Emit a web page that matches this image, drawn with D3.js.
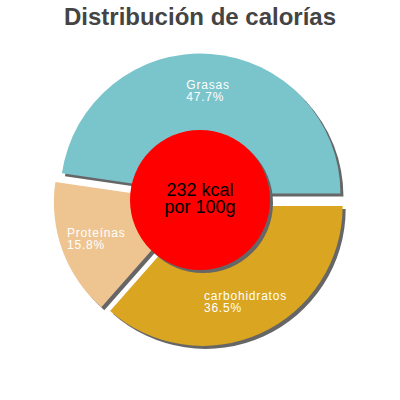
<!DOCTYPE html>
<html lang="es">
    <head>
        <meta charset="utf-8">
        <title>Distribución de calorías</title>
        <script src="https://d3js.org/d3.v7.min.js"></script>
        <style type="text/css">
            body{
                margin: 0;
                background: #fff;
            }
            svg{
                width: 400px;
                height: 400px;
                display: block;
                font-family: "Liberation Sans", Arial, sans-serif;
            }
        </style>
    </head>
    <body>
        <svg></svg>
        <script type="text/javascript">

        const w = 400;
        const h = 400;

        //DATA
        const nutrients = ["Grasas", "Proteínas", "carbohidratos"];
        const percents = [47.7, 15.8, 36.5];
        const colors = ["#7AC4CC", "#EEC591", "#DAA520"];
        const kcal = 232;
        const centerLines = [kcal + " kcal", "por 100g"];

        const dataset = nutrients.map((n, i) => ({name: n, val: percents[i], color: colors[i]}));

        const cx = 200, cy = 200;
        const radius = 140;
        const hole = 70;
        const explode = 6.5;
        const labelR = 104;

        const svg = d3.select("svg");

        //TITLE
        svg.append("text")
           .attr("x", w / 2)
           .attr("y", 25)
           .attr("text-anchor", "middle")
           .attr("font-size", "24px")
           .attr("font-weight", "bold")
           .attr("fill", "#444")
           .text("Distribución de calorías");

        //PIE - starts at 3 o'clock, goes counterclockwise
        const pie = d3.pie()
                      .value(d => d.val)
                      .sort(null)
                      .startAngle(Math.PI / 2)
                      .endAngle(Math.PI / 2 - 2 * Math.PI);

        const arc = d3.arc().innerRadius(0).outerRadius(radius);
        const labelArc = d3.arc().innerRadius(labelR).outerRadius(labelR);

        const arcs = pie(dataset);

        const shift = d => {
            const a = (d.startAngle + d.endAngle) / 2;
            return [Math.sin(a) * explode, -Math.cos(a) * explode];
        };

        const g = svg.append("g").attr("transform", `translate(${cx},${cy})`);

        //SHADOWS
        g.selectAll("path.shadow")
         .data(arcs)
         .join("path")
         .attr("class", "shadow")
         .attr("d", arc)
         .attr("fill", "#666")
         .attr("transform", d => {
             const s = shift(d);
             return `translate(${s[0] + 3},${s[1] + 3})`;
         });

        //SLICES
        g.selectAll("path.slice")
         .data(arcs)
         .join("path")
         .attr("class", "slice")
         .attr("d", arc)
         .attr("fill", d => d.data.color)
         .attr("transform", d => {
             const s = shift(d);
             return `translate(${s[0]},${s[1]})`;
         });

        //LABELS (left aligned block, centred on the widest line)
        const labels = g.selectAll("text.lbl")
                        .data(arcs)
                        .join("text")
                        .attr("class", "lbl")
                        .attr("fill", "#fff")
                        .attr("font-size", "12px")
                        .attr("letter-spacing", "0.8px");

        labels.append("tspan").attr("class", "l1").text(d => d.data.name);
        labels.append("tspan").attr("class", "l2").text(d => d.data.val.toFixed(1) + "%");

        labels.each(function(d) {
            const t = d3.select(this);
            const s = shift(d);
            const c = labelArc.centroid(d);
            const px = c[0] + s[0], py = c[1] + s[1];
            const wMax = Math.max(
                t.select(".l1").node().getComputedTextLength(),
                t.select(".l2").node().getComputedTextLength());
            const x0 = px - wMax / 2;
            t.select(".l1").attr("x", x0).attr("y", py - 1);
            t.select(".l2").attr("x", x0).attr("y", py + 11);
        });

        //CENTER
        g.append("circle")
         .attr("r", hole)
         .attr("cx", 3)
         .attr("cy", 3)
         .attr("fill", "#666");

        g.append("circle")
         .attr("r", hole)
         .attr("fill", "#FF0000");

        g.selectAll("text.center")
         .data(centerLines)
         .join("text")
         .attr("class", "center")
         .attr("text-anchor", "middle")
         .attr("font-size", "18px")
         .attr("fill", "#000")
         .attr("y", (d, i) => -4 + i * 17)
         .text(d => d);

        </script>
    </body>
</html>
